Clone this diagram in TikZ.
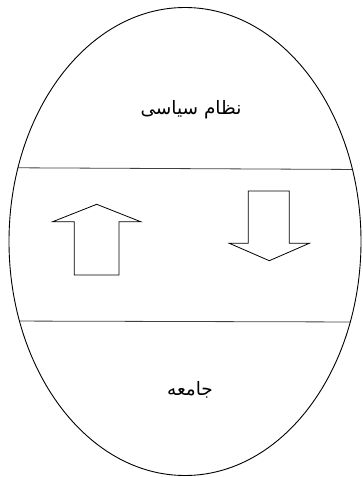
\documentclass[tikz,border=0pt]{standalone}
\usepackage{fontspec}
\newfontfamily\arabicfont[Script=Arabic]{DejaVu Sans}
\TeXXeTstate=1
\begin{document}
\begin{tikzpicture}[x=1pt,y=-1pt,
  outline/.style={draw=black,line width=0.9pt},
  divider/.style={draw=black!75,line width=0.8pt},
  blockarrow/.style={draw=black,line width=0.8pt,fill=white,line join=miter},
  label/.style={font=\arabicfont\fontsize{18.5}{22}\selectfont,inner sep=0pt}]
\useasboundingbox (0,0) rectangle (362,477);
% egg outline
\begin{scope}
  \clip (185,241.5) ellipse [x radius=176, y radius=234];
  \draw[divider] (0,167.7) -- (362,169.5);
  \draw[divider] (0,321) -- (362,322);
\end{scope}
\draw[outline] (185,241.5) ellipse [x radius=176, y radius=234];
% up arrow
\draw[blockarrow] (96.7,204.3) -- (140.7,221.7) -- (119,221.7) -- (119,275)
  -- (74.3,275) -- (74.3,221.7) -- (52.7,221.7) -- cycle;
% down arrow
\draw[blockarrow] (248.3,191) -- (289.3,191) -- (289.3,243.3) -- (309.3,243.3)
  -- (269.3,260.7) -- (229.3,243.3) -- (248.3,243.3) -- cycle;
% labels
\node[label] (top) at (191,110) {\beginR نظام سیاسی\endR};
\node[label] (bottom) at (190,390) {\beginR جامعه\endR};
\end{tikzpicture}
\end{document}
